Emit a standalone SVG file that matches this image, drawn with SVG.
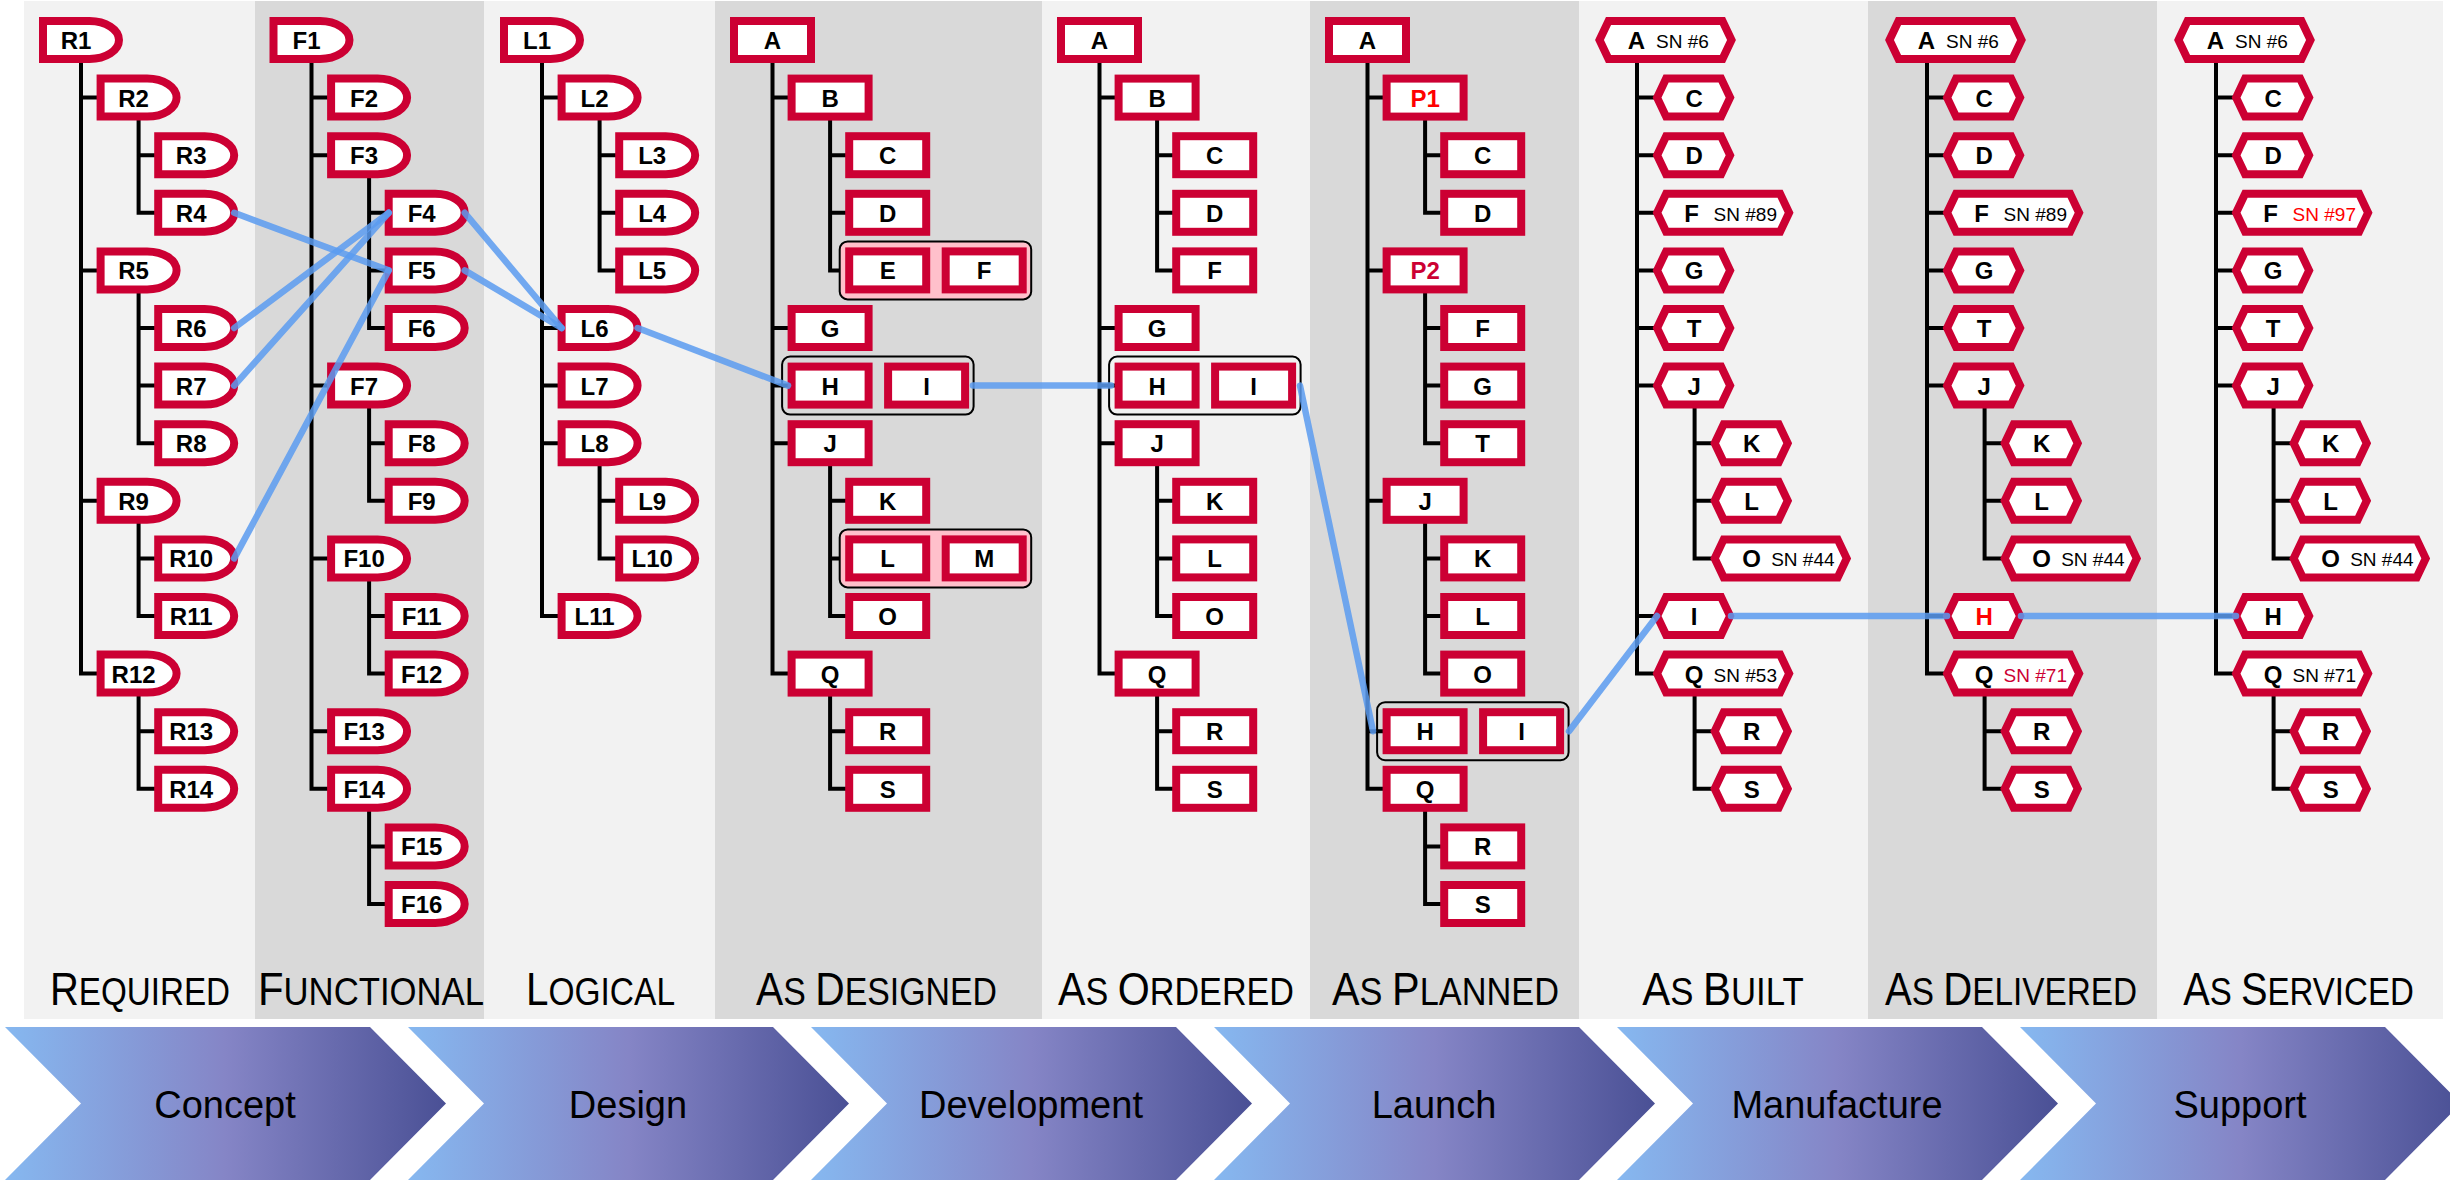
<svg xmlns="http://www.w3.org/2000/svg" width="2450" height="1182" viewBox="0 0 2450 1182">
<style>
.lb{font-family:"Liberation Sans",Arial,sans-serif;font-weight:bold;font-size:24px;text-anchor:middle;fill:#000}
.sn{font-family:"Liberation Sans",Arial,sans-serif;font-size:19px;fill:#000}
.tree{stroke:#000;stroke-width:4;fill:none;stroke-linecap:square}
.con{stroke:#5b9bf0;stroke-opacity:0.85;stroke-width:6.5;stroke-linecap:round;fill:none}
.grp{stroke:#000;stroke-width:2}
.ttl{font-family:"Liberation Sans",Arial,sans-serif;font-size:39px;fill:#000;text-anchor:middle}
.ttl .b{font-size:47px}
.chl{font-family:"Liberation Sans",Arial,sans-serif;font-size:38px;fill:#000;text-anchor:middle}
.red{fill:#ff0000}
.crim{fill:#cc0033}
</style>
<defs>
<path id="dsh" d="M4,4H50.5A29.5,19 0 0 1 50.5,42H4Z" fill="#fff" stroke="#cc0033" stroke-width="8"/>
<rect id="rsh" x="4" y="4" width="77" height="38" fill="#fff" stroke="#cc0033" stroke-width="8"/>
<polygon id="hx" points="4.5,23 13.5,4 68.5,4 77.5,23 68.5,42 13.5,42" fill="#fff" stroke="#cc0033" stroke-width="8"/>
<polygon id="hxs" points="4.5,23 13.5,4 127.5,4 136.5,23 127.5,42 13.5,42" fill="#fff" stroke="#cc0033" stroke-width="8"/>
<linearGradient id="chev" x1="0" y1="0" x2="1" y2="0">
<stop offset="0" stop-color="#86b8f0"/><stop offset="0.5" stop-color="#8585c6"/><stop offset="1" stop-color="#4a5095"/>
</linearGradient>
</defs>

<g id="panels">
<rect x="24" y="1" width="231" height="1018" fill="#f2f2f2"/>
<rect x="255" y="1" width="229" height="1018" fill="#d9d9d9"/>
<rect x="484" y="1" width="231" height="1018" fill="#f2f2f2"/>
<rect x="715" y="1" width="327" height="1018" fill="#d9d9d9"/>
<rect x="1042" y="1" width="268" height="1018" fill="#f2f2f2"/>
<rect x="1310" y="1" width="269" height="1018" fill="#d9d9d9"/>
<rect x="1579" y="1" width="289" height="1018" fill="#f2f2f2"/>
<rect x="1868" y="1" width="289" height="1018" fill="#d9d9d9"/>
<rect x="2157" y="1" width="286" height="1018" fill="#f2f2f2"/>
</g>

<g id="titles" class="ttl">
<text transform="translate(140,1005) scale(0.851,1)"><tspan class="b">R</tspan>EQUIRED</text>
<text transform="translate(371,1005) scale(0.89,1)"><tspan class="b">F</tspan>UNCTIONAL</text>
<text transform="translate(600.5,1005) scale(0.859,1)"><tspan class="b">L</tspan>OGICAL</text>
<text transform="translate(876.5,1005) scale(0.868,1)"><tspan class="b">A</tspan>S <tspan class="b">D</tspan>ESIGNED</text>
<text transform="translate(1176,1005) scale(0.876,1)"><tspan class="b">A</tspan>S <tspan class="b">O</tspan>RDERED</text>
<text transform="translate(1445.5,1005) scale(0.881,1)"><tspan class="b">A</tspan>S <tspan class="b">P</tspan>LANNED</text>
<text transform="translate(1723,1005) scale(0.892,1)"><tspan class="b">A</tspan>S <tspan class="b">B</tspan>UILT</text>
<text transform="translate(2011,1005) scale(0.855,1)"><tspan class="b">A</tspan>S <tspan class="b">D</tspan>ELIVERED</text>
<text transform="translate(2298.5,1005) scale(0.847,1)"><tspan class="b">A</tspan>S <tspan class="b">S</tspan>ERVICED</text>
</g>

<g id="phases">
<g id="ph-concept"><polygon points="5,1027 370,1027 446,1103.5 370,1180 5,1180 81,1103.5" fill="url(#chev)"/><text class="chl" x="225" y="1118">Concept</text></g>
<g id="ph-design"><polygon points="408,1027 773,1027 849,1103.5 773,1180 408,1180 484,1103.5" fill="url(#chev)"/><text class="chl" x="628" y="1118">Design</text></g>
<g id="ph-development"><polygon points="811,1027 1176,1027 1252,1103.5 1176,1180 811,1180 887,1103.5" fill="url(#chev)"/><text class="chl" x="1031" y="1118">Development</text></g>
<g id="ph-launch"><polygon points="1214,1027 1579,1027 1655,1103.5 1579,1180 1214,1180 1290,1103.5" fill="url(#chev)"/><text class="chl" x="1434" y="1118">Launch</text></g>
<g id="ph-manufacture"><polygon points="1617,1027 1982,1027 2058,1103.5 1982,1180 1617,1180 1693,1103.5" fill="url(#chev)"/><text class="chl" x="1837" y="1118">Manufacture</text></g>
<g id="ph-support"><polygon points="2020,1027 2385,1027 2461,1103.5 2385,1180 2020,1180 2096,1103.5" fill="url(#chev)"/><text class="chl" x="2240" y="1118">Support</text></g>
</g>

<g id="tree-lines" class="tree">
<path d="M81,63V673.6M81,97.6H96.6M81,270.4H96.6M81,500.8H96.6M81,673.6H96.6M138.6,120.6V212.8M138.6,155.2H154.2M138.6,212.8H154.2M138.6,293.4V443.2M138.6,328H154.2M138.6,385.6H154.2M138.6,443.2H154.2M138.6,523.8V616M138.6,558.4H154.2M138.6,616H154.2M138.6,696.6V788.8M138.6,731.2H154.2M138.6,788.8H154.2"/>
<path d="M311.5,63V788.8M311.5,97.6H327.1M311.5,155.2H327.1M311.5,385.6H327.1M311.5,558.4H327.1M311.5,731.2H327.1M311.5,788.8H327.1M369.1,178.2V328M369.1,212.8H384.7M369.1,270.4H384.7M369.1,328H384.7M369.1,408.6V500.8M369.1,443.2H384.7M369.1,500.8H384.7M369.1,581.4V673.6M369.1,616H384.7M369.1,673.6H384.7M369.1,811.8V904M369.1,846.4H384.7M369.1,904H384.7"/>
<path d="M542,63V616M542,97.6H557.6M542,328H557.6M542,385.6H557.6M542,443.2H557.6M542,616H557.6M599.6,120.6V270.4M599.6,155.2H615.2M599.6,212.8H615.2M599.6,270.4H615.2M599.6,466.2V558.4M599.6,500.8H615.2M599.6,558.4H615.2"/>
<path d="M772.5,63V673.6M772.5,97.6H787.6M772.5,328H787.6M772.5,385.6H787.6M772.5,443.2H787.6M772.5,673.6H787.6M830.1,120.6V270.4M830.1,155.2H845.2M830.1,212.8H845.2M830.1,270.4H845.2M830.1,466.2V616M830.1,500.8H845.2M830.1,558.4H845.2M830.1,616H845.2M830.1,696.6V788.8M830.1,731.2H845.2M830.1,788.8H845.2"/>
<path d="M1099.5,63V673.6M1099.5,97.6H1114.6M1099.5,328H1114.6M1099.5,385.6H1114.6M1099.5,443.2H1114.6M1099.5,673.6H1114.6M1157.1,120.6V270.4M1157.1,155.2H1172.2M1157.1,212.8H1172.2M1157.1,270.4H1172.2M1157.1,466.2V616M1157.1,500.8H1172.2M1157.1,558.4H1172.2M1157.1,616H1172.2M1157.1,696.6V788.8M1157.1,731.2H1172.2M1157.1,788.8H1172.2"/>
<path d="M1367.5,63V788.8M1367.5,97.6H1382.6M1367.5,270.4H1382.6M1367.5,500.8H1382.6M1367.5,731.2H1382.6M1367.5,788.8H1382.6M1425.1,120.6V212.8M1425.1,155.2H1440.2M1425.1,212.8H1440.2M1425.1,293.4V443.2M1425.1,328H1440.2M1425.1,385.6H1440.2M1425.1,443.2H1440.2M1425.1,523.8V673.6M1425.1,558.4H1440.2M1425.1,616H1440.2M1425.1,673.6H1440.2M1425.1,811.8V904M1425.1,846.4H1440.2M1425.1,904H1440.2"/>
<path d="M1637,63V673.6M1637,97.6H1652.6M1637,155.2H1652.6M1637,212.8H1652.6M1637,270.4H1652.6M1637,328H1652.6M1637,385.6H1652.6M1637,616H1652.6M1637,673.6H1652.6M1694.6,408.6V558.4M1694.6,443.2H1710.2M1694.6,500.8H1710.2M1694.6,558.4H1710.2M1694.6,696.6V788.8M1694.6,731.2H1710.2M1694.6,788.8H1710.2"/>
<path d="M1927,63V673.6M1927,97.6H1942.6M1927,155.2H1942.6M1927,212.8H1942.6M1927,270.4H1942.6M1927,328H1942.6M1927,385.6H1942.6M1927,616H1942.6M1927,673.6H1942.6M1984.6,408.6V558.4M1984.6,443.2H2000.2M1984.6,500.8H2000.2M1984.6,558.4H2000.2M1984.6,696.6V788.8M1984.6,731.2H2000.2M1984.6,788.8H2000.2"/>
<path d="M2216,63V673.6M2216,97.6H2231.6M2216,155.2H2231.6M2216,212.8H2231.6M2216,270.4H2231.6M2216,328H2231.6M2216,385.6H2231.6M2216,616H2231.6M2216,673.6H2231.6M2273.6,408.6V558.4M2273.6,443.2H2289.2M2273.6,500.8H2289.2M2273.6,558.4H2289.2M2273.6,696.6V788.8M2273.6,731.2H2289.2M2273.6,788.8H2289.2"/>
</g>

<g id="groups">
<rect id="grp-ad-ef" class="grp" x="839.7" y="241.4" width="191.5" height="58" rx="8" fill="#ffc0cb"/>
<rect id="grp-ad-hi" class="grp" x="782.1" y="356.6" width="191.5" height="58" rx="8" fill="none"/>
<rect id="grp-ad-lm" class="grp" x="839.7" y="529.4" width="191.5" height="58" rx="8" fill="#ffc0cb"/>
<rect id="grp-ao-hi" class="grp" x="1109.1" y="356.6" width="191.5" height="58" rx="8" fill="none"/>
<rect id="grp-ap-hi" class="grp" x="1377.1" y="702.2" width="191.5" height="58" rx="8" fill="none"/>
</g>

<g id="required">
<g id="req-R1" transform="translate(39,17)"><use href="#dsh"/><text class="lb" x="37" y="32">R1</text></g>
<g id="req-R2" transform="translate(96.6,74.6)"><use href="#dsh"/><text class="lb" x="37" y="32">R2</text></g>
<g id="req-R3" transform="translate(154.2,132.2)"><use href="#dsh"/><text class="lb" x="37" y="32">R3</text></g>
<g id="req-R4" transform="translate(154.2,189.8)"><use href="#dsh"/><text class="lb" x="37" y="32">R4</text></g>
<g id="req-R5" transform="translate(96.6,247.4)"><use href="#dsh"/><text class="lb" x="37" y="32">R5</text></g>
<g id="req-R6" transform="translate(154.2,305)"><use href="#dsh"/><text class="lb" x="37" y="32">R6</text></g>
<g id="req-R7" transform="translate(154.2,362.6)"><use href="#dsh"/><text class="lb" x="37" y="32">R7</text></g>
<g id="req-R8" transform="translate(154.2,420.2)"><use href="#dsh"/><text class="lb" x="37" y="32">R8</text></g>
<g id="req-R9" transform="translate(96.6,477.8)"><use href="#dsh"/><text class="lb" x="37" y="32">R9</text></g>
<g id="req-R10" transform="translate(154.2,535.4)"><use href="#dsh"/><text class="lb" x="37" y="32">R10</text></g>
<g id="req-R11" transform="translate(154.2,593)"><use href="#dsh"/><text class="lb" x="37" y="32">R11</text></g>
<g id="req-R12" transform="translate(96.6,650.6)"><use href="#dsh"/><text class="lb" x="37" y="32">R12</text></g>
<g id="req-R13" transform="translate(154.2,708.2)"><use href="#dsh"/><text class="lb" x="37" y="32">R13</text></g>
<g id="req-R14" transform="translate(154.2,765.8)"><use href="#dsh"/><text class="lb" x="37" y="32">R14</text></g>
</g>

<g id="functional">
<g id="fun-F1" transform="translate(269.5,17)"><use href="#dsh"/><text class="lb" x="37" y="32">F1</text></g>
<g id="fun-F2" transform="translate(327.1,74.6)"><use href="#dsh"/><text class="lb" x="37" y="32">F2</text></g>
<g id="fun-F3" transform="translate(327.1,132.2)"><use href="#dsh"/><text class="lb" x="37" y="32">F3</text></g>
<g id="fun-F4" transform="translate(384.7,189.8)"><use href="#dsh"/><text class="lb" x="37" y="32">F4</text></g>
<g id="fun-F5" transform="translate(384.7,247.4)"><use href="#dsh"/><text class="lb" x="37" y="32">F5</text></g>
<g id="fun-F6" transform="translate(384.7,305)"><use href="#dsh"/><text class="lb" x="37" y="32">F6</text></g>
<g id="fun-F7" transform="translate(327.1,362.6)"><use href="#dsh"/><text class="lb" x="37" y="32">F7</text></g>
<g id="fun-F8" transform="translate(384.7,420.2)"><use href="#dsh"/><text class="lb" x="37" y="32">F8</text></g>
<g id="fun-F9" transform="translate(384.7,477.8)"><use href="#dsh"/><text class="lb" x="37" y="32">F9</text></g>
<g id="fun-F10" transform="translate(327.1,535.4)"><use href="#dsh"/><text class="lb" x="37" y="32">F10</text></g>
<g id="fun-F11" transform="translate(384.7,593)"><use href="#dsh"/><text class="lb" x="37" y="32">F11</text></g>
<g id="fun-F12" transform="translate(384.7,650.6)"><use href="#dsh"/><text class="lb" x="37" y="32">F12</text></g>
<g id="fun-F13" transform="translate(327.1,708.2)"><use href="#dsh"/><text class="lb" x="37" y="32">F13</text></g>
<g id="fun-F14" transform="translate(327.1,765.8)"><use href="#dsh"/><text class="lb" x="37" y="32">F14</text></g>
<g id="fun-F15" transform="translate(384.7,823.4)"><use href="#dsh"/><text class="lb" x="37" y="32">F15</text></g>
<g id="fun-F16" transform="translate(384.7,881)"><use href="#dsh"/><text class="lb" x="37" y="32">F16</text></g>
</g>

<g id="logical">
<g id="log-L1" transform="translate(500,17)"><use href="#dsh"/><text class="lb" x="37" y="32">L1</text></g>
<g id="log-L2" transform="translate(557.6,74.6)"><use href="#dsh"/><text class="lb" x="37" y="32">L2</text></g>
<g id="log-L3" transform="translate(615.2,132.2)"><use href="#dsh"/><text class="lb" x="37" y="32">L3</text></g>
<g id="log-L4" transform="translate(615.2,189.8)"><use href="#dsh"/><text class="lb" x="37" y="32">L4</text></g>
<g id="log-L5" transform="translate(615.2,247.4)"><use href="#dsh"/><text class="lb" x="37" y="32">L5</text></g>
<g id="log-L6" transform="translate(557.6,305)"><use href="#dsh"/><text class="lb" x="37" y="32">L6</text></g>
<g id="log-L7" transform="translate(557.6,362.6)"><use href="#dsh"/><text class="lb" x="37" y="32">L7</text></g>
<g id="log-L8" transform="translate(557.6,420.2)"><use href="#dsh"/><text class="lb" x="37" y="32">L8</text></g>
<g id="log-L9" transform="translate(615.2,477.8)"><use href="#dsh"/><text class="lb" x="37" y="32">L9</text></g>
<g id="log-L10" transform="translate(615.2,535.4)"><use href="#dsh"/><text class="lb" x="37" y="32">L10</text></g>
<g id="log-L11" transform="translate(557.6,593)"><use href="#dsh"/><text class="lb" x="37" y="32">L11</text></g>
</g>

<g id="as-designed">
<g id="ad-A" transform="translate(730,17)"><use href="#rsh"/><text class="lb" x="42.5" y="32">A</text></g>
<g id="ad-B" transform="translate(787.6,74.6)"><use href="#rsh"/><text class="lb" x="42.5" y="32">B</text></g>
<g id="ad-C" transform="translate(845.2,132.2)"><use href="#rsh"/><text class="lb" x="42.5" y="32">C</text></g>
<g id="ad-D" transform="translate(845.2,189.8)"><use href="#rsh"/><text class="lb" x="42.5" y="32">D</text></g>
<g id="ad-E" transform="translate(845.2,247.4)"><use href="#rsh"/><text class="lb" x="42.5" y="32">E</text></g>
<g id="ad-F" transform="translate(941.7,247.4)"><use href="#rsh"/><text class="lb" x="42.5" y="32">F</text></g>
<g id="ad-G" transform="translate(787.6,305)"><use href="#rsh"/><text class="lb" x="42.5" y="32">G</text></g>
<g id="ad-H" transform="translate(787.6,362.6)"><use href="#rsh"/><text class="lb" x="42.5" y="32">H</text></g>
<g id="ad-I" transform="translate(884.1,362.6)"><use href="#rsh"/><text class="lb" x="42.5" y="32">I</text></g>
<g id="ad-J" transform="translate(787.6,420.2)"><use href="#rsh"/><text class="lb" x="42.5" y="32">J</text></g>
<g id="ad-K" transform="translate(845.2,477.8)"><use href="#rsh"/><text class="lb" x="42.5" y="32">K</text></g>
<g id="ad-L" transform="translate(845.2,535.4)"><use href="#rsh"/><text class="lb" x="42.5" y="32">L</text></g>
<g id="ad-M" transform="translate(941.7,535.4)"><use href="#rsh"/><text class="lb" x="42.5" y="32">M</text></g>
<g id="ad-O" transform="translate(845.2,593)"><use href="#rsh"/><text class="lb" x="42.5" y="32">O</text></g>
<g id="ad-Q" transform="translate(787.6,650.6)"><use href="#rsh"/><text class="lb" x="42.5" y="32">Q</text></g>
<g id="ad-R" transform="translate(845.2,708.2)"><use href="#rsh"/><text class="lb" x="42.5" y="32">R</text></g>
<g id="ad-S" transform="translate(845.2,765.8)"><use href="#rsh"/><text class="lb" x="42.5" y="32">S</text></g>
</g>

<g id="as-ordered">
<g id="ao-A" transform="translate(1057,17)"><use href="#rsh"/><text class="lb" x="42.5" y="32">A</text></g>
<g id="ao-B" transform="translate(1114.6,74.6)"><use href="#rsh"/><text class="lb" x="42.5" y="32">B</text></g>
<g id="ao-C" transform="translate(1172.2,132.2)"><use href="#rsh"/><text class="lb" x="42.5" y="32">C</text></g>
<g id="ao-D" transform="translate(1172.2,189.8)"><use href="#rsh"/><text class="lb" x="42.5" y="32">D</text></g>
<g id="ao-F" transform="translate(1172.2,247.4)"><use href="#rsh"/><text class="lb" x="42.5" y="32">F</text></g>
<g id="ao-G" transform="translate(1114.6,305)"><use href="#rsh"/><text class="lb" x="42.5" y="32">G</text></g>
<g id="ao-H" transform="translate(1114.6,362.6)"><use href="#rsh"/><text class="lb" x="42.5" y="32">H</text></g>
<g id="ao-I" transform="translate(1211.1,362.6)"><use href="#rsh"/><text class="lb" x="42.5" y="32">I</text></g>
<g id="ao-J" transform="translate(1114.6,420.2)"><use href="#rsh"/><text class="lb" x="42.5" y="32">J</text></g>
<g id="ao-K" transform="translate(1172.2,477.8)"><use href="#rsh"/><text class="lb" x="42.5" y="32">K</text></g>
<g id="ao-L" transform="translate(1172.2,535.4)"><use href="#rsh"/><text class="lb" x="42.5" y="32">L</text></g>
<g id="ao-O" transform="translate(1172.2,593)"><use href="#rsh"/><text class="lb" x="42.5" y="32">O</text></g>
<g id="ao-Q" transform="translate(1114.6,650.6)"><use href="#rsh"/><text class="lb" x="42.5" y="32">Q</text></g>
<g id="ao-R" transform="translate(1172.2,708.2)"><use href="#rsh"/><text class="lb" x="42.5" y="32">R</text></g>
<g id="ao-S" transform="translate(1172.2,765.8)"><use href="#rsh"/><text class="lb" x="42.5" y="32">S</text></g>
</g>

<g id="as-planned">
<g id="ap-A" transform="translate(1325,17)"><use href="#rsh"/><text class="lb" x="42.5" y="32">A</text></g>
<g id="ap-P1" transform="translate(1382.6,74.6)"><use href="#rsh"/><text class="lb red" x="42.5" y="32">P1</text></g>
<g id="ap-C" transform="translate(1440.2,132.2)"><use href="#rsh"/><text class="lb" x="42.5" y="32">C</text></g>
<g id="ap-D" transform="translate(1440.2,189.8)"><use href="#rsh"/><text class="lb" x="42.5" y="32">D</text></g>
<g id="ap-P2" transform="translate(1382.6,247.4)"><use href="#rsh"/><text class="lb crim" x="42.5" y="32">P2</text></g>
<g id="ap-F" transform="translate(1440.2,305)"><use href="#rsh"/><text class="lb" x="42.5" y="32">F</text></g>
<g id="ap-G" transform="translate(1440.2,362.6)"><use href="#rsh"/><text class="lb" x="42.5" y="32">G</text></g>
<g id="ap-T" transform="translate(1440.2,420.2)"><use href="#rsh"/><text class="lb" x="42.5" y="32">T</text></g>
<g id="ap-J" transform="translate(1382.6,477.8)"><use href="#rsh"/><text class="lb" x="42.5" y="32">J</text></g>
<g id="ap-K" transform="translate(1440.2,535.4)"><use href="#rsh"/><text class="lb" x="42.5" y="32">K</text></g>
<g id="ap-L" transform="translate(1440.2,593)"><use href="#rsh"/><text class="lb" x="42.5" y="32">L</text></g>
<g id="ap-O" transform="translate(1440.2,650.6)"><use href="#rsh"/><text class="lb" x="42.5" y="32">O</text></g>
<g id="ap-H" transform="translate(1382.6,708.2)"><use href="#rsh"/><text class="lb" x="42.5" y="32">H</text></g>
<g id="ap-I" transform="translate(1479.1,708.2)"><use href="#rsh"/><text class="lb" x="42.5" y="32">I</text></g>
<g id="ap-Q" transform="translate(1382.6,765.8)"><use href="#rsh"/><text class="lb" x="42.5" y="32">Q</text></g>
<g id="ap-R" transform="translate(1440.2,823.4)"><use href="#rsh"/><text class="lb" x="42.5" y="32">R</text></g>
<g id="ap-S" transform="translate(1440.2,881)"><use href="#rsh"/><text class="lb" x="42.5" y="32">S</text></g>
</g>

<g id="as-built">
<g id="ab-A" transform="translate(1595,17)"><use href="#hxs"/><text class="lb" x="41.5" y="32">A</text><text class="sn" x="61" y="31">SN #6</text></g>
<g id="ab-C" transform="translate(1652.6,74.6)"><use href="#hx"/><text class="lb" x="41.5" y="32">C</text></g>
<g id="ab-D" transform="translate(1652.6,132.2)"><use href="#hx"/><text class="lb" x="41.5" y="32">D</text></g>
<g id="ab-F" transform="translate(1652.6,189.8)"><use href="#hxs"/><text class="lb" x="39" y="32">F</text><text class="sn" x="61" y="31">SN #89</text></g>
<g id="ab-G" transform="translate(1652.6,247.4)"><use href="#hx"/><text class="lb" x="41.5" y="32">G</text></g>
<g id="ab-T" transform="translate(1652.6,305)"><use href="#hx"/><text class="lb" x="41.5" y="32">T</text></g>
<g id="ab-J" transform="translate(1652.6,362.6)"><use href="#hx"/><text class="lb" x="41.5" y="32">J</text></g>
<g id="ab-K" transform="translate(1710.2,420.2)"><use href="#hx"/><text class="lb" x="41.5" y="32">K</text></g>
<g id="ab-L" transform="translate(1710.2,477.8)"><use href="#hx"/><text class="lb" x="41.5" y="32">L</text></g>
<g id="ab-O" transform="translate(1710.2,535.4)"><use href="#hxs"/><text class="lb" x="41.5" y="32">O</text><text class="sn" x="61" y="31">SN #44</text></g>
<g id="ab-I" transform="translate(1652.6,593)"><use href="#hx"/><text class="lb" x="41.5" y="32">I</text></g>
<g id="ab-Q" transform="translate(1652.6,650.6)"><use href="#hxs"/><text class="lb" x="41.5" y="32">Q</text><text class="sn" x="61" y="31">SN #53</text></g>
<g id="ab-R" transform="translate(1710.2,708.2)"><use href="#hx"/><text class="lb" x="41.5" y="32">R</text></g>
<g id="ab-S" transform="translate(1710.2,765.8)"><use href="#hx"/><text class="lb" x="41.5" y="32">S</text></g>
</g>

<g id="as-delivered">
<g id="adl-A" transform="translate(1885,17)"><use href="#hxs"/><text class="lb" x="41.5" y="32">A</text><text class="sn" x="61" y="31">SN #6</text></g>
<g id="adl-C" transform="translate(1942.6,74.6)"><use href="#hx"/><text class="lb" x="41.5" y="32">C</text></g>
<g id="adl-D" transform="translate(1942.6,132.2)"><use href="#hx"/><text class="lb" x="41.5" y="32">D</text></g>
<g id="adl-F" transform="translate(1942.6,189.8)"><use href="#hxs"/><text class="lb" x="39" y="32">F</text><text class="sn" x="61" y="31">SN #89</text></g>
<g id="adl-G" transform="translate(1942.6,247.4)"><use href="#hx"/><text class="lb" x="41.5" y="32">G</text></g>
<g id="adl-T" transform="translate(1942.6,305)"><use href="#hx"/><text class="lb" x="41.5" y="32">T</text></g>
<g id="adl-J" transform="translate(1942.6,362.6)"><use href="#hx"/><text class="lb" x="41.5" y="32">J</text></g>
<g id="adl-K" transform="translate(2000.2,420.2)"><use href="#hx"/><text class="lb" x="41.5" y="32">K</text></g>
<g id="adl-L" transform="translate(2000.2,477.8)"><use href="#hx"/><text class="lb" x="41.5" y="32">L</text></g>
<g id="adl-O" transform="translate(2000.2,535.4)"><use href="#hxs"/><text class="lb" x="41.5" y="32">O</text><text class="sn" x="61" y="31">SN #44</text></g>
<g id="adl-H" transform="translate(1942.6,593)"><use href="#hx"/><text class="lb red" x="41.5" y="32">H</text></g>
<g id="adl-Q" transform="translate(1942.6,650.6)"><use href="#hxs"/><text class="lb" x="41.5" y="32">Q</text><text class="sn crim" x="61" y="31">SN #71</text></g>
<g id="adl-R" transform="translate(2000.2,708.2)"><use href="#hx"/><text class="lb" x="41.5" y="32">R</text></g>
<g id="adl-S" transform="translate(2000.2,765.8)"><use href="#hx"/><text class="lb" x="41.5" y="32">S</text></g>
</g>

<g id="as-serviced">
<g id="as-A" transform="translate(2174,17)"><use href="#hxs"/><text class="lb" x="41.5" y="32">A</text><text class="sn" x="61" y="31">SN #6</text></g>
<g id="as-C" transform="translate(2231.6,74.6)"><use href="#hx"/><text class="lb" x="41.5" y="32">C</text></g>
<g id="as-D" transform="translate(2231.6,132.2)"><use href="#hx"/><text class="lb" x="41.5" y="32">D</text></g>
<g id="as-F" transform="translate(2231.6,189.8)"><use href="#hxs"/><text class="lb" x="39" y="32">F</text><text class="sn red" x="61" y="31">SN #97</text></g>
<g id="as-G" transform="translate(2231.6,247.4)"><use href="#hx"/><text class="lb" x="41.5" y="32">G</text></g>
<g id="as-T" transform="translate(2231.6,305)"><use href="#hx"/><text class="lb" x="41.5" y="32">T</text></g>
<g id="as-J" transform="translate(2231.6,362.6)"><use href="#hx"/><text class="lb" x="41.5" y="32">J</text></g>
<g id="as-K" transform="translate(2289.2,420.2)"><use href="#hx"/><text class="lb" x="41.5" y="32">K</text></g>
<g id="as-L" transform="translate(2289.2,477.8)"><use href="#hx"/><text class="lb" x="41.5" y="32">L</text></g>
<g id="as-O" transform="translate(2289.2,535.4)"><use href="#hxs"/><text class="lb" x="41.5" y="32">O</text><text class="sn" x="61" y="31">SN #44</text></g>
<g id="as-H" transform="translate(2231.6,593)"><use href="#hx"/><text class="lb" x="41.5" y="32">H</text></g>
<g id="as-Q" transform="translate(2231.6,650.6)"><use href="#hxs"/><text class="lb" x="41.5" y="32">Q</text><text class="sn" x="61" y="31">SN #71</text></g>
<g id="as-R" transform="translate(2289.2,708.2)"><use href="#hx"/><text class="lb" x="41.5" y="32">R</text></g>
<g id="as-S" transform="translate(2289.2,765.8)"><use href="#hx"/><text class="lb" x="41.5" y="32">S</text></g>
</g>

<g id="connectors" class="con">
<line x1="234.2" y1="212.8" x2="388.7" y2="270.4"/>
<line x1="234.2" y1="328" x2="388.7" y2="212.8"/>
<line x1="234.2" y1="385.6" x2="388.7" y2="212.8"/>
<line x1="234.2" y1="558.4" x2="388.7" y2="270.4"/>
<line x1="464.7" y1="212.8" x2="561.6" y2="328"/>
<line x1="464.7" y1="270.4" x2="561.6" y2="328"/>
<line x1="637.6" y1="328" x2="788" y2="385.6"/>
<line x1="973" y1="385.6" x2="1111" y2="385.6"/>
<line x1="1300" y1="385.6" x2="1373" y2="731.2"/>
<line x1="1569" y1="731.2" x2="1657" y2="616"/>
<line x1="1731" y1="616" x2="1947" y2="616"/>
<line x1="2021" y1="616" x2="2236" y2="616"/>
</g>
</svg>
